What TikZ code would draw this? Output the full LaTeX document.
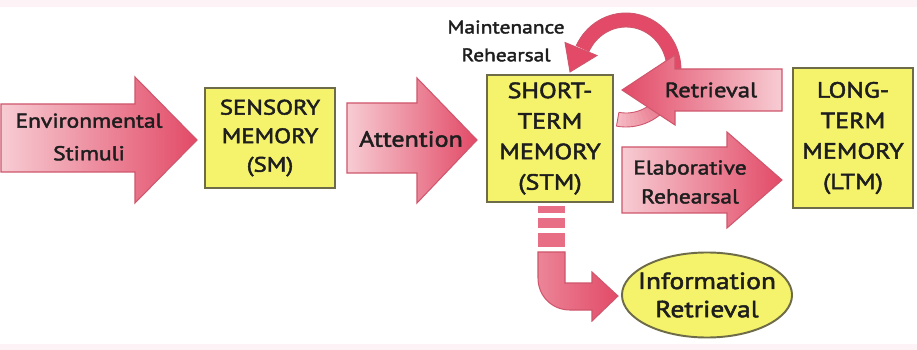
\documentclass[tikz,border=0pt]{standalone}
\usepackage{fontspec}
\setmainfont{PT Sans}[FakeStretch=1.18, FakeBold=2.2]
\usetikzlibrary{shapes.geometric}
\definecolor{boxyellow}{HTML}{F5F36B}
\definecolor{boxedge}{HTML}{6E6C48}
\definecolor{arrred}{HTML}{E24A67}
\definecolor{arrpale}{HTML}{F7CCD3}
\definecolor{arredge}{HTML}{CF566C}
\definecolor{txt}{HTML}{1E1E1E}
\definecolor{bandpink}{HTML}{FDF3F6}
\begin{document}
\begin{tikzpicture}[x=0.5669pt, y=-0.5669pt,
  membox/.style={draw=boxedge, fill=boxyellow, line width=1.1pt, inner sep=0pt, text=txt, align=center},
  blockr/.style={draw=arredge, line width=0.6pt, left color=arrpale, right color=arrred},
  blockl/.style={draw=arredge, line width=0.6pt, left color=arrred, right color=arrpale},
  lbl/.style={text=txt, align=center, inner sep=0pt},
]
\useasboundingbox (0,0) rectangle (917,350);
\fill[white] (0,0) rectangle (917,350);
\fill[bandpink] (0,0) rectangle (917,7);
\fill[bandpink] (0,344) rectangle (917,350);

% maintenance rehearsal loop
\foreach \i in {0,...,50}{
  \pgfmathsetmacro\aa{100-5*\i}
  \pgfmathsetmacro\ab{max(\aa-5.6,-155)}
  \pgfmathtruncatemacro\t{min(100,15+5*\i)}
  \fill[arrred!\t!arrpale] plot[domain=\aa:\ab, samples=3] ({626+55*cos(\x)},{70+57*sin(\x)})
     -- plot[domain=\ab:\aa, samples=3] ({626+41*cos(\x)},{70+43*sin(\x)}) -- cycle;
}
\draw[arredge, line width=0.5pt] plot[domain=100:-155, samples=60] ({626+55*cos(\x)},{70+57*sin(\x)});
\draw[arredge, line width=0.5pt] plot[domain=100:-155, samples=60] ({626+41*cos(\x)},{70+43*sin(\x)});
\draw[arredge, line width=0.5pt] ({626+55*cos(100)},{70+57*sin(100)}) -- ({626+41*cos(100)},{70+43*sin(100)});
\fill[arrred, draw=arredge, line width=0.5pt] (565,42.5) -- (597,55.5) -- (570,72) -- cycle;

% block arrows
\path[blockr] (1,104) -- (135,104) -- (135,77) -- (197,140) -- (135,203) -- (135,172) -- (1,172) -- cycle;
\node[lbl, font=\fontsize{11.3}{18.5}\selectfont] (env) at (89,137) {Environmental\\Stimuli};

\path[blockr] (347,103) -- (417,103) -- (417,78) -- (477,140) -- (417,203) -- (417,173) -- (347,173) -- cycle;
\node[lbl, font=\fontsize{12.5}{15}\selectfont] (att) at (411,139) {Attention};

\path[blockl] (622,90) -- (675,55) -- (675,69) -- (782,69) -- (782,111) -- (675,111) -- (675,125) -- cycle;
\node[lbl, font=\fontsize{11.8}{15}\selectfont] (ret) at (711,90) {Retrieval};

\path[blockr] (622,147) -- (727,147) -- (727,132) -- (782,180) -- (727,228) -- (727,213) -- (622,213) -- cycle;
\node[lbl, font=\fontsize{11.3}{16.4}\selectfont] (ela) at (690,182) {Elaborative\\Rehearsal};

% down arrow from STM
\fill[arrred!80!white] (538,206) rectangle (565,213);
\fill[arrred!80!white] (538,218) rectangle (565,228);
\fill[arrred!80!white] (538,233) rectangle (565,247);
\path[blockr, left color=arrred!55!arrpale] (538,252) -- (565,252) -- (565,283) -- (592,283) -- (592,272) -- (618,296)
   -- (592,321) -- (592,310) -- (570,310) .. controls (552,310) and (538,296) .. (538,278) -- cycle;

% memory boxes
\node[membox, minimum width=73.7pt, minimum height=56.7pt, font=\fontsize{11.9}{16.2}\selectfont] (sm) at (270,138) {SENSORY\\MEMORY\\(SM)};
\node[membox, minimum width=71.4pt, minimum height=72pt, font=\fontsize{12.5}{17.3}\selectfont] (stm) at (550,138.5) {SHORT-\\TERM\\MEMORY\\(STM)};
\node[membox, minimum width=68pt, minimum height=79.4pt, font=\fontsize{12.5}{17.3}\selectfont] (ltm) at (853,138) {LONG-\\TERM\\MEMORY\\(LTM)};

\node[ellipse, draw=boxedge, fill=boxyellow, line width=1.1pt, minimum width=96.4pt, minimum height=48.2pt, inner sep=0pt] (ir) at (707,295) {};
\node[lbl, font=\fontsize{13.2}{16}\selectfont] (irt) at (ir) {Information\\Retrieval};

\node[lbl, font=\fontsize{10.3}{15.8}\selectfont] (mr) at (506,41) {Maintenance\\Rehearsal};
\end{tikzpicture}
\end{document}
